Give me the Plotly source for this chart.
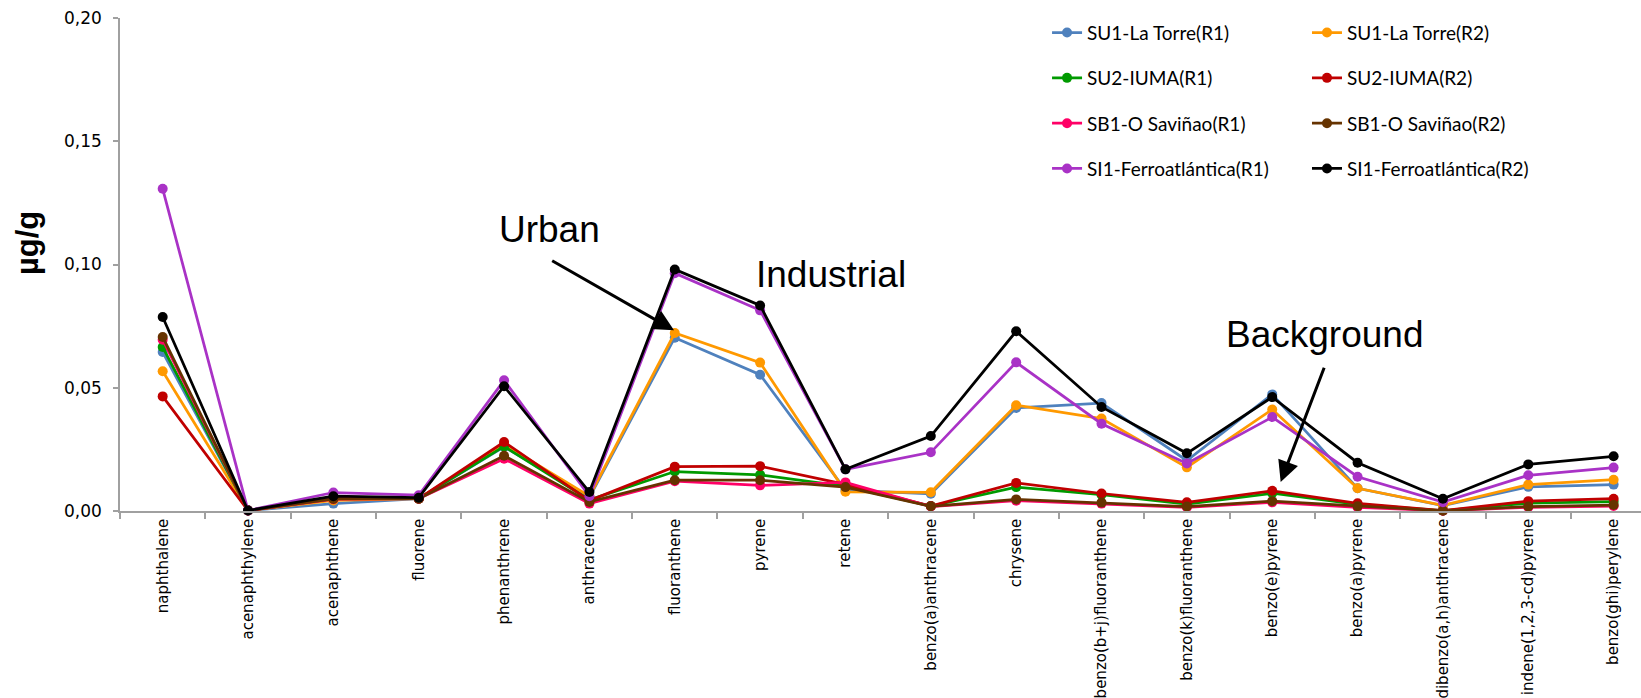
import plotly.graph_objects as go

categories = ["naphthalene", "acenaphthylene", "acenaphthene", "fluorene", "phenanthrene",
              "anthracene", "fluoranthene", "pyrene", "retene", "benzo(a)anthracene",
              "chrysene", "benzo(b+j)fluoranthene", "benzo(k)fluoranthene", "benzo(e)pyrene",
              "benzo(a)pyrene", "dibenzo(a,h)anthracene", "indene(1,2,3-cd)pyrene",
              "benzo(ghi)perylene"]

su1_r1 = [0.0645, 0.0002, 0.0030, 0.0050, 0.0260, 0.0055, 0.0703, 0.0553, 0.0085, 0.0070,
          0.0418, 0.0438, 0.0205, 0.0473, 0.0092, 0.0022, 0.0098, 0.0107]
su1_r2 = [0.0567, 0.0002, 0.0043, 0.0050, 0.0270, 0.0060, 0.0722, 0.0602, 0.0078, 0.0076,
          0.0429, 0.0375, 0.0177, 0.0412, 0.0092, 0.0023, 0.0107, 0.0127]
su2_r1 = [0.0665, 0.0002, 0.0050, 0.0050, 0.0262, 0.0045, 0.0160, 0.0147, 0.0100, 0.0020,
          0.0097, 0.0066, 0.0028, 0.0072, 0.0027, 0.0002, 0.0032, 0.0038]
su2_r2 = [0.0465, 0.0002, 0.0050, 0.0050, 0.0280, 0.0042, 0.0180, 0.0182, 0.0108, 0.0020,
          0.0114, 0.0071, 0.0035, 0.0082, 0.0031, 0.0002, 0.0040, 0.0050]
sb1_r1 = [0.0695, 0.0002, 0.0048, 0.0050, 0.0212, 0.0030, 0.0121, 0.0104, 0.0116, 0.0018,
          0.0042, 0.0030, 0.0015, 0.0035, 0.0015, 0.0001, 0.0015, 0.0020]
sb1_r2 = [0.0706, 0.0002, 0.0049, 0.0050, 0.0224, 0.0037, 0.0125, 0.0125, 0.0097, 0.0019,
          0.0047, 0.0034, 0.0018, 0.0040, 0.0019, 0.0001, 0.0018, 0.0024]
si1_r1 = [0.1307, 0.0002, 0.0075, 0.0064, 0.0530, 0.0060, 0.0965, 0.0814, 0.0169, 0.0238,
          0.0603, 0.0354, 0.0193, 0.0381, 0.0139, 0.0036, 0.0145, 0.0176]
si1_r2 = [0.0787, 0.0002, 0.0060, 0.0054, 0.0506, 0.0077, 0.0980, 0.0834, 0.0169, 0.0304,
          0.0729, 0.0422, 0.0234, 0.0462, 0.0196, 0.0050, 0.0189, 0.0222]

series = [
    ("SU1-La Torre(R1)", su1_r1, "#4F81BD", "legend"),
    ("SU1-La Torre(R2)", su1_r2, "#FF9900", "legend2"),
    ("SU2-IUMA(R1)", su2_r1, "#009A00", "legend"),
    ("SU2-IUMA(R2)", su2_r2, "#C00000", "legend2"),
    ("SB1-O Saviñao(R1)", sb1_r1, "#FF0066", "legend"),
    ("SB1-O Saviñao(R2)", sb1_r2, "#663300", "legend2"),
    ("SI1-Ferroatlántica(R1)", si1_r1, "#A932C6", "legend"),
    ("SI1-Ferroatlántica(R2)", si1_r2, "#000000", "legend2"),
]

fig = go.Figure()
for i, (name, vals, color, leg) in enumerate(series):
    fig.add_trace(go.Scatter(
        x=categories, y=vals, name=name, mode="lines+markers",
        line=dict(color=color, width=2.75),
        marker=dict(color=color, size=10),
        cliponaxis=False, legend=leg, legendgroup="g%d" % i,
    ))

axis_gray = "#A0A0A0"
plot_w = 1521
cat_px = 85.35
fig.update_xaxes(
    type="category", categoryorder="array", categoryarray=categories,
    range=[-0.5, -0.5 + plot_w / cat_px],
    showline=True, linecolor=axis_gray, linewidth=1.5,
    ticks="outside", ticklen=6, tickcolor=axis_gray, tickwidth=1.5,
    tickson="boundaries", tickangle=-90, showgrid=False, zeroline=False,
    tickfont=dict(family="DejaVu Sans", size=15, color="#000000"),
    automargin=False,
)
fig.update_yaxes(
    range=[0, 0.20], dtick=0.05, tickformat=".2f",
    showline=True, linecolor=axis_gray, linewidth=1.5,
    ticks="outside", ticklen=5, tickcolor=axis_gray, tickwidth=1.5,
    showgrid=False, zeroline=False,
    tickfont=dict(family="DejaVu Sans", size=17, color="#000000"),
    ticklabelstandoff=8,
    automargin=False,
)

legend_common = dict(
    orientation="v", xanchor="left", yanchor="top", bgcolor="rgba(0,0,0,0)",
    font=dict(family="Lato", size=19, color="#000000"), tracegroupgap=17.6,
)

annot_font = dict(family="Liberation Sans", size=37, color="#000000")
fig.update_layout(
    width=1641, height=698,
    margin=dict(l=120, r=0, t=17.5, b=187.3, pad=0),
    paper_bgcolor="white", plot_bgcolor="white",
    separators=", ",
    showlegend=True,
    legend=dict(x=0.6095, y=1.0087, **legend_common),
    legend2=dict(x=0.7804, y=1.0087, **legend_common),
    annotations=[
        dict(text="µg/g", xref="paper", yref="paper", x=-0.0607, y=0.5428,
             xanchor="center", yanchor="middle",
             textangle=-90, showarrow=False,
             font=dict(family="Liberation Sans", size=31, color="#000000", weight="bold")),
        dict(text="Urban", x=4.534, y=0.1143, xref="x", yref="y", showarrow=False, font=annot_font),
        dict(text="Industrial", x=7.827, y=0.0958, xref="x", yref="y", showarrow=False, font=annot_font),
        dict(text="Background", x=13.615, y=0.0717, xref="x", yref="y", showarrow=False, font=annot_font),
        dict(text="", x=5.991, y=0.0733, ax=4.546, ay=0.1019, xref="x", yref="y",
             axref="x", ayref="y", showarrow=True, arrowhead=2, arrowsize=1.4,
             arrowwidth=3, arrowcolor="#000000", standoff=0),
        dict(text="", x=13.099, y=0.01176, ax=13.615, ay=0.0587, xref="x", yref="y",
             axref="x", ayref="y", showarrow=True, arrowhead=2, arrowsize=1.4,
             arrowwidth=3, arrowcolor="#000000", standoff=0),
    ],
)

fig.write_html("out.html")
